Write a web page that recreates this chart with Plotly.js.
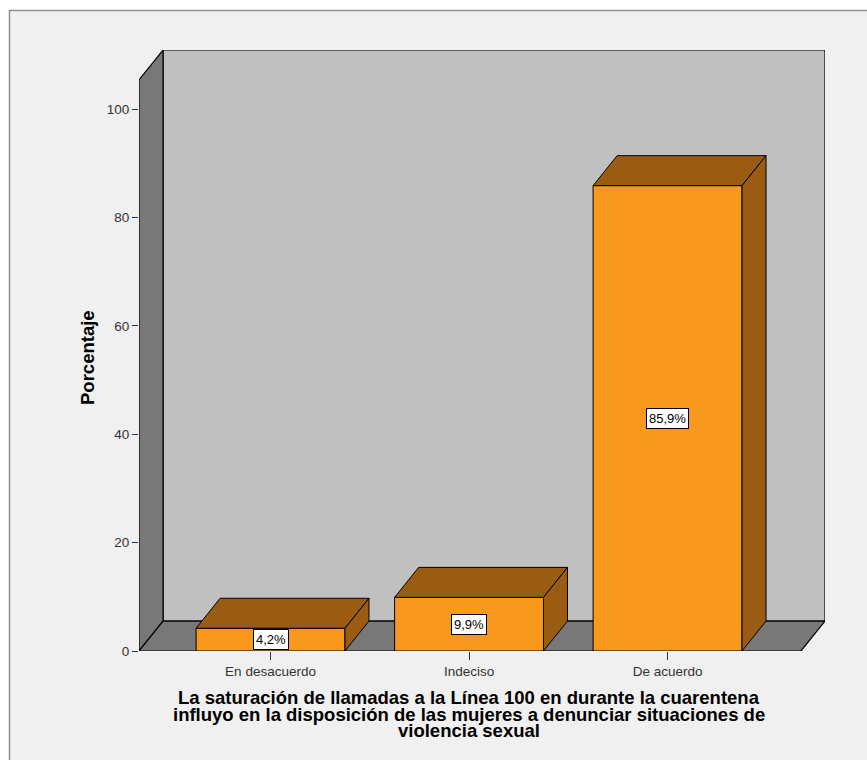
<!DOCTYPE html>
<html>
<head>
<meta charset="utf-8">
<script src="https://cdn.plot.ly/plotly-3.0.1.min.js"></script>
<style>html,body{margin:0;padding:0;background:#fff;}#chart{width:867px;height:760px;}</style>
</head>
<body>
<div id="chart"></div>
<script>
// ---- data ----
const categories = ["En desacuerdo", "Indeciso", "De acuerdo"];
const percentages = [4.2, 9.9, 85.9];
const yTickValues = [0, 20, 40, 60, 80, 100];
const xAxisTitleLines = [
  "La saturación de llamadas a la Línea 100 en durante la cuarentena",
  "influyo en la disposición de las mujeres a denunciar situaciones de",
  "violencia sexual"
];
const yAxisTitle = "Porcentaje";

// ---- geometry / style ----
const barW = 0.75;
const dx = 0.121;   // depth offset in x units
const dy = 5.53;    // depth offset in y units
const xL = -0.6625, xF = 2.672; // front plane x extent
const yTop = 105.4;             // front plane top
const orange = "#f8991d", brown = "#9a5b13";
const FONT = "Liberation Sans, Arial, sans-serif";
const xs = categories.map((c, i) => i);

const traces = [{
  type: "bar", x: xs, y: percentages, width: barW,
  marker: {color: orange, line: {color: "#000", width: 1}},
  hoverinfo: "skip", showlegend: false
}];
xs.forEach((x, i) => {
  const v = percentages[i], l = x - barW / 2, r = x + barW / 2;
  traces.push({type: "scatter", mode: "lines", fill: "toself", fillcolor: brown,
    x: [l, r, r + dx, l + dx, l], y: [v, v, v + dy, v + dy, v],
    line: {color: "#000", width: 1}, hoverinfo: "skip", showlegend: false, cliponaxis: false});
  traces.push({type: "scatter", mode: "lines", fill: "toself", fillcolor: brown,
    x: [r, r, r + dx, r + dx, r], y: [0, v, v + dy, dy, 0],
    line: {color: "#000", width: 1}, hoverinfo: "skip", showlegend: false, cliponaxis: false});
});

const shapes = [
  // outer frame
  {type: "rect", xref: "paper", yref: "paper", x0: (9.5 - 139) / 686, x1: 1.2, y0: -0.3, y1: (651 - 10.5) / 601,
   fillcolor: "#f0f0f0", line: {color: "#8f8f8f", width: 1.5}, layer: "below"},
  // back wall
  {type: "rect", xref: "x", yref: "y", x0: xL + dx, x1: xF + dx, y0: dy, y1: yTop + dy,
   fillcolor: "#c0c0c0", line: {color: "#000", width: 1.2}, layer: "below"},
  // left wall
  {type: "path", xref: "x", yref: "y",
   path: `M ${xL},0 L ${xL},${yTop} L ${xL + dx},${yTop + dy} L ${xL + dx},${dy} Z`,
   fillcolor: "#787878", line: {color: "#000", width: 1.2}, layer: "below"},
  // floor
  {type: "path", xref: "x", yref: "y",
   path: `M ${xL},0 L ${xF},0 L ${xF + dx},${dy} L ${xL + dx},${dy} Z`,
   fillcolor: "#787878", line: {color: "#000", width: 1.2}, layer: "below"}
];

const annotations = xs.map((x, i) => ({
  x: x, y: percentages[i] / 2, xref: "x", yref: "y",
  text: percentages[i].toFixed(1).replace(".", ",") + "%",
  showarrow: false, bgcolor: "#fff", bordercolor: "#000", borderwidth: 1, borderpad: 2,
  font: {family: FONT, size: 13, color: "#000"}
}));
xAxisTitleLines.forEach((line, k) => {
  annotations.push({
    x: 1, xref: "x", xanchor: "center",
    y: (651 - (697 + 17 * k)) / 601, yref: "paper", yanchor: "middle",
    text: "<b>" + line + "</b>", showarrow: false, borderpad: 0,
    font: {family: FONT, size: 18.5, color: "#000"}
  });
});
annotations.push({
  x: (87 - 139) / 686, xref: "paper", xanchor: "center",
  y: (651 - 358) / 601, yref: "paper", yanchor: "middle",
  text: "<b>" + yAxisTitle + "</b>", showarrow: false, textangle: -90,
  font: {family: FONT, size: 18.5, color: "#000"}
});

const layout = {
  width: 867, height: 760,
  margin: {l: 139, r: 42, t: 50, b: 109},
  paper_bgcolor: "#ffffff", plot_bgcolor: "rgba(0,0,0,0)",
  showlegend: false,
  font: {family: FONT, size: 13.5, color: "#333"},
  xaxis: {range: [xL, xF + dx], tickvals: xs, ticktext: categories, ticks: "outside", ticklen: 8,
    tickcolor: "#333", showgrid: false, zeroline: false, showline: false, fixedrange: true,
    tickfont: {family: FONT, size: 13.5, color: "#333"}},
  yaxis: {range: [0, yTop + dy], tickvals: yTickValues, ticks: "outside", ticklen: 6,
    tickcolor: "#333", showgrid: false, zeroline: false, showline: false, fixedrange: true,
    tickfont: {family: FONT, size: 13.5, color: "#333"}},
  shapes: shapes,
  annotations: annotations
};

Plotly.newPlot("chart", traces, layout, {displayModeBar: false, staticPlot: true});
</script>
</body>
</html>
